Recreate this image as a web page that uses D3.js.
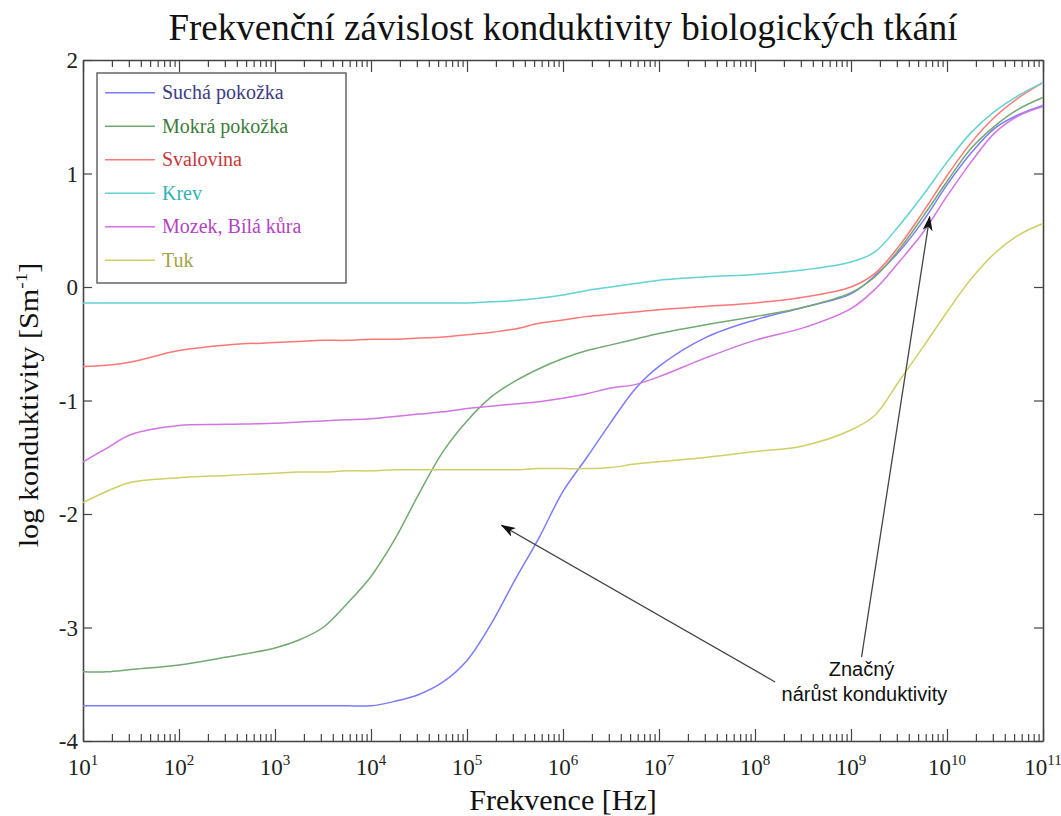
<!DOCTYPE html>
<html>
<head>
<meta charset="utf-8">
<script src="https://cdn.jsdelivr.net/npm/d3@7"></script>
<style>
body { margin: 0; background: #fff; }
svg { display: block; }
</style>
</head>
<body>
<script>
// log10 of frequency [Hz]
var logFreq = [1, 1.25, 1.5, 2, 2.5, 3, 3.25, 3.5, 3.75, 4, 4.25, 4.5, 4.75, 5, 5.25, 5.5, 5.75,
               6, 6.25, 6.5, 6.75, 7, 7.5, 8, 8.5, 9, 9.25, 9.5, 9.75, 10, 10.25, 10.5, 10.75, 11];

var suchaPokozka = [-3.69, -3.69, -3.69, -3.69, -3.69, -3.69, -3.69, -3.69, -3.69, -3.69, -3.65, -3.59, -3.48, -3.29, -2.97, -2.58, -2.21,
                    -1.80, -1.50, -1.19, -0.90, -0.70, -0.44, -0.29, -0.18, -0.06, 0.10, 0.31, 0.58, 0.90, 1.18, 1.40, 1.52, 1.60];
var mokraPokozka = [-3.39, -3.39, -3.37, -3.33, -3.26, -3.18, -3.11, -3.00, -2.79, -2.55, -2.22, -1.82, -1.45, -1.18, -0.97, -0.83, -0.72,
                    -0.63, -0.56, -0.51, -0.46, -0.41, -0.33, -0.26, -0.18, -0.05, 0.09, 0.33, 0.62, 0.93, 1.22, 1.42, 1.57, 1.67];
var svalovina    = [-0.70, -0.69, -0.66, -0.56, -0.51, -0.49, -0.48, -0.47, -0.47, -0.46, -0.46, -0.45, -0.44, -0.42, -0.40, -0.37, -0.32,
                    -0.29, -0.26, -0.24, -0.22, -0.20, -0.17, -0.14, -0.09, 0.00, 0.12, 0.36, 0.66, 0.98, 1.27, 1.50, 1.67, 1.80];
var krev         = [-0.14, -0.14, -0.14, -0.14, -0.14, -0.14, -0.14, -0.14, -0.14, -0.14, -0.14, -0.14, -0.14, -0.14, -0.13, -0.12, -0.10,
                    -0.07, -0.03, 0.00, 0.03, 0.06, 0.09, 0.11, 0.15, 0.22, 0.31, 0.54, 0.81, 1.10, 1.36, 1.55, 1.69, 1.80];
var mozek        = [-1.54, -1.42, -1.30, -1.22, -1.21, -1.20, -1.19, -1.18, -1.17, -1.16, -1.14, -1.12, -1.10, -1.07, -1.05, -1.03, -1.01,
                    -0.98, -0.94, -0.89, -0.86, -0.79, -0.62, -0.47, -0.36, -0.19, -0.02, 0.22, 0.48, 0.80, 1.10, 1.36, 1.51, 1.59];
var tuk          = [-1.90, -1.80, -1.72, -1.68, -1.66, -1.64, -1.63, -1.63, -1.62, -1.62, -1.61, -1.61, -1.61, -1.61, -1.61, -1.61, -1.60,
                    -1.60, -1.60, -1.59, -1.56, -1.54, -1.50, -1.45, -1.40, -1.26, -1.13, -0.83, -0.53, -0.22, 0.07, 0.30, 0.46, 0.56];

var seriesNames = ["Suchá pokožka", "Mokrá pokožka", "Svalovina", "Krev", "Mozek, Bílá kůra", "Tuk"];
var seriesValues = [suchaPokozka, mokraPokozka, svalovina, krev, mozek, tuk];
var lineColors = ["#7b7bff", "#72aa72", "#ff7676", "#62d2d2", "#d274e2", "#cfcf66"];
var textColors = ["#3c3c84", "#3c7c3c", "#c43a3a", "#34b2b2", "#b444c4", "#a4a444"];

var xMajor = [1e1, 1e2, 1e3, 1e4, 1e5, 1e6, 1e7, 1e8, 1e9, 1e10, 1e11];
var yTicks = [2, 1, 0, -1, -2, -3, -4];

// annotation: two arrows from the text to the curves, in data units [log10 f, value]
var arrows = [
    {from: [8.21, -3.48], to: [5.36, -2.10]},
    {from: [9.11, -3.26], to: [9.82, 0.62]}
];
var noteLines = ["Značný", "nárůst konduktivity"];
var notePos = [[9.11, -3.43], [9.14, -3.65]];

var width = 1061,
    height = 816;
var plotLeft = 83, plotRight = 1043, plotTop = 60, plotBottom = 741;
var serifFont = '"Liberation Serif", "Times New Roman", Times, serif';
var sansFont = '"Liberation Sans", Arial, sans-serif';

var svg = d3.select("body").append("svg")
    .attr("width", width)
    .attr("height", height);

var x = d3.scaleLog().domain([10, 1e11]).range([plotLeft, plotRight]);
var y = d3.scaleLinear().domain([-4, 2]).range([plotBottom, plotTop]);

// minor ticks 2..9 per decade
var xMinor = [];
for (var e = 1; e < 11; e++) {
    for (var m = 2; m < 10; m++) xMinor.push(m * Math.pow(10, e));
}

var axisColor = "#444";

function styleAxis(g) {
    g.selectAll("path.domain").attr("stroke", axisColor).attr("stroke-width", 1.6);
    g.selectAll(".tick line").attr("stroke", axisColor).attr("stroke-width", 1.2);
    g.selectAll(".tick text").remove();
}

// bottom / top axes (ticks inside)
svg.append("g").attr("transform", "translate(0," + plotBottom + ")")
    .call(d3.axisBottom(x).tickValues(xMajor).tickSizeInner(-12).tickSizeOuter(0)).call(styleAxis);
svg.append("g").attr("transform", "translate(0," + plotBottom + ")")
    .call(d3.axisBottom(x).tickValues(xMinor).tickSizeInner(-7).tickSizeOuter(0)).call(styleAxis)
    .select("path.domain").remove();
svg.append("g").attr("transform", "translate(0," + plotTop + ")")
    .call(d3.axisTop(x).tickValues(xMajor).tickSizeInner(-12).tickSizeOuter(0)).call(styleAxis);
svg.append("g").attr("transform", "translate(0," + plotTop + ")")
    .call(d3.axisTop(x).tickValues(xMinor).tickSizeInner(-7).tickSizeOuter(0)).call(styleAxis)
    .select("path.domain").remove();

// left / right axes
svg.append("g").attr("transform", "translate(" + plotLeft + ",0)")
    .call(d3.axisLeft(y).tickValues(yTicks).tickSizeInner(-9).tickSizeOuter(0)).call(styleAxis);
svg.append("g").attr("transform", "translate(" + plotRight + ",0)")
    .call(d3.axisRight(y).tickValues(yTicks).tickSizeInner(-9).tickSizeOuter(0)).call(styleAxis);

// tick labels
svg.selectAll(".ylab").data(yTicks).enter().append("text")
    .attr("class", "ylab")
    .attr("x", plotLeft - 5)
    .attr("y", function(d){ return y(d) + 8; })
    .attr("text-anchor", "end")
    .attr("font-family", serifFont)
    .attr("font-size", 23)
    .attr("fill", "#222")
    .text(function(d){ return d; });

var xlab = svg.selectAll(".xlab").data(xMajor).enter().append("text")
    .attr("class", "xlab")
    .attr("x", function(d){ return x(d); })
    .attr("y", plotBottom + 34)
    .attr("text-anchor", "middle")
    .attr("font-family", serifFont)
    .attr("font-size", 23)
    .attr("fill", "#222");
xlab.append("tspan").text("10");
xlab.append("tspan").attr("font-size", 15).attr("dy", -10)
    .text(function(d){ return Math.round(Math.log10(d)); });

// curves
var line = d3.line()
    .x(function(d){ return x(Math.pow(10, d[0])); })
    .y(function(d){ return y(d[1]); })
    .curve(d3.curveCatmullRom.alpha(0.5));

seriesValues.forEach(function(vals, i){
    svg.append("path")
        .datum(logFreq.map(function(L, j){ return [L, vals[j]]; }))
        .attr("fill", "none")
        .attr("stroke", lineColors[i])
        .attr("stroke-width", 1.5)
        .attr("d", line);
});

// legend
var legend = svg.append("g");
legend.append("rect")
    .attr("x", 97).attr("y", 73).attr("width", 249).attr("height", 210)
    .attr("fill", "#fff").attr("stroke", "#666").attr("stroke-width", 1.5);
seriesNames.forEach(function(name, i){
    var ly = 92.7 + i * 33.5;
    legend.append("line")
        .attr("x1", 105).attr("x2", 155).attr("y1", ly).attr("y2", ly)
        .attr("stroke", lineColors[i]).attr("stroke-width", 1.5);
    legend.append("text")
        .attr("x", 162).attr("y", ly + 6.5)
        .attr("font-family", serifFont)
        .attr("font-size", 20)
        .attr("fill", textColors[i])
        .text(name);
});

// arrows
svg.append("defs").append("marker")
    .attr("id", "head")
    .attr("viewBox", "0 -5 15 10")
    .attr("refX", 14).attr("refY", 0)
    .attr("markerWidth", 15).attr("markerHeight", 10)
    .attr("markerUnits", "userSpaceOnUse")
    .attr("orient", "auto")
    .append("path")
    .attr("d", "M0,-5L15,0L0,5L4,0Z")
    .attr("fill", "#111");

arrows.forEach(function(a){
    svg.append("line")
        .attr("x1", x(Math.pow(10, a.from[0]))).attr("y1", y(a.from[1]))
        .attr("x2", x(Math.pow(10, a.to[0]))).attr("y2", y(a.to[1]))
        .attr("stroke", "#444").attr("stroke-width", 1.3)
        .attr("marker-end", "url(#head)");
});

noteLines.forEach(function(t, i){
    svg.append("text")
        .attr("x", x(Math.pow(10, notePos[i][0])))
        .attr("y", y(notePos[i][1]))
        .attr("text-anchor", "middle")
        .attr("font-family", sansFont)
        .attr("font-size", 20)
        .attr("fill", "#111")
        .text(t);
});

// title and axis titles
svg.append("text")
    .attr("transform", "translate(563,40)")
    .attr("text-anchor", "middle")
    .attr("font-family", serifFont)
    .attr("font-size", 37)
    .attr("fill", "#111")
    .text("Frekvenční závislost konduktivity biologických tkání");

svg.append("text")
    .attr("transform", "translate(563,810)")
    .attr("text-anchor", "middle")
    .attr("font-family", serifFont)
    .attr("font-size", 30)
    .attr("fill", "#111")
    .text("Frekvence [Hz]");

var ylabel = svg.append("text")
    .attr("transform", "translate(38,405) rotate(-90) scale(1.12,1)")
    .attr("text-anchor", "middle")
    .attr("font-family", serifFont)
    .attr("font-size", 27)
    .attr("fill", "#111");
ylabel.append("tspan").text("log konduktivity [Sm");
ylabel.append("tspan").attr("font-size", 17).attr("dy", -11).text("-1");
ylabel.append("tspan").attr("dy", 11).text("]");
</script>
</body>
</html>
